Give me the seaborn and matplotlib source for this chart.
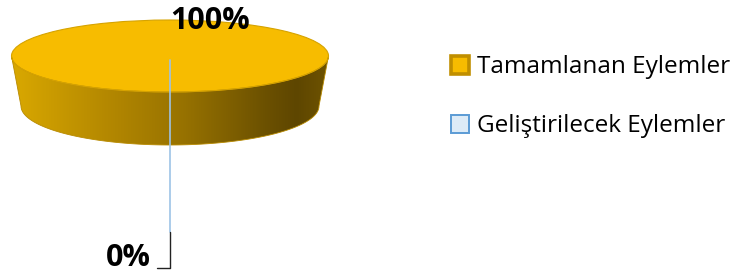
import numpy as np
import matplotlib
matplotlib.use("Agg")
import matplotlib.pyplot as plt
import seaborn as sns
from matplotlib.lines import Line2D
from matplotlib.path import Path
from matplotlib.patches import PathPatch, Ellipse
from matplotlib.colors import LinearSegmentedColormap

# ---- data ----
categories = ["Tamamlanan Eylemler", "Geliştirilecek Eylemler"]
values = [100, 0]
value_labels = ["100%", "0%"]
slice_colors = ["#F7BC00", "#DDEBF7"]
edge_colors = ["#C08F00", "#5B9BD5"]

sns.set_theme(style="white")
plt.rcParams["font.family"] = ["Open Sans", "DejaVu Sans"]

W, H = 730, 275
fig = plt.figure(figsize=(W / 100, H / 100), dpi=100)

# geometry of the 3D disc (pixels)
cx, cy, a, b = 170, 56, 158.5, 36
cy2, a2, b2 = 106, 149, 39

# top face: pie drawn into an axes the size of the ellipse
pie_ax = fig.add_axes([(cx - a) / W, (H - (cy + b)) / H, 2 * a / W, 2 * b / H])
pie_ax.set_zorder(1)
pie_ax.pie(values, colors=slice_colors, startangle=90, counterclock=False,
           radius=1.0, wedgeprops=dict(linewidth=0))
pie_ax.set_aspect("auto")
pie_ax.set_xlim(-1, 1)
pie_ax.set_ylim(-1, 1)
pie_ax.patch.set_alpha(0)
pie_ax.axis("off")

# overlay axes in pixel coordinates (y downward)
bg = fig.add_axes([0, 0, 1, 1])
bg.set_zorder(2)
bg.patch.set_alpha(0)
bg.set_xlim(0, W)
bg.set_ylim(H, 0)
bg.axis("off")

# side of the disc: lower half of top ellipse + lower half of bottom ellipse
t = np.linspace(np.pi, 0, 200)
top_x = cx + a * np.cos(t)
top_y = cy + b * np.sin(t)
bot_x = cx + a2 * np.cos(t[::-1])
bot_y = cy2 + b2 * np.sin(t[::-1])
verts = np.column_stack([np.concatenate([top_x, bot_x]),
                         np.concatenate([top_y, bot_y])])
side_path = Path(np.vstack([verts, verts[:1]]), closed=True)
side_patch = PathPatch(side_path, facecolor="none", edgecolor="#B88A00", lw=0.6, zorder=2)
bg.add_patch(side_patch)

cmap = LinearSegmentedColormap.from_list(
    "side", [(0.0, "#D9A800"), (0.3, "#B48800"), (0.55, "#967100"),
             (0.8, "#6C5100"), (0.9, "#5E4600"), (1.0, "#6E5300")])
grad = np.linspace(0, 1, 400).reshape(1, -1)
im = bg.imshow(grad, cmap=cmap, extent=(cx - a, cx + a, cy2 + b2 + 2, cy - 2),
               aspect="auto", zorder=1)
im.set_clip_path(side_patch)

# outline of the top face
bg.add_patch(Ellipse((cx, cy), 2 * a, 2 * b, facecolor="none",
                     edgecolor="#D6A300", lw=0.8, zorder=3))

# zero slice line and leader
bg.plot([cx, cx], [cy + 4, 232], color="#9DC3E6", lw=1.2, zorder=5)
bg.plot([cx, cx, 157], [232, 268, 268], color="#222222", lw=1.0, zorder=5)

# data labels
bg.text(210, 21, value_labels[0], ha="center", va="center", fontsize=22,
        fontweight="bold", color="black", zorder=6)
bg.text(128, 258, value_labels[1], ha="center", va="center", fontsize=22,
        fontweight="bold", color="black", zorder=6)

# legend
handles = [Line2D([], [], linestyle="none", marker="s", markersize=12.5,
                  markerfacecolor=slice_colors[i], markeredgecolor=edge_colors[i],
                  markeredgewidth=2.6 if i == 0 else 1.4)
           for i in range(len(categories))]
leg = fig.legend(handles, categories, loc="upper left",
                 bbox_to_anchor=(436 / W, 1 - 43 / H), frameon=False,
                 fontsize=17.5, labelspacing=1.45, handletextpad=0.2,
                 handlelength=1.0, borderpad=0)
for txt in leg.get_texts():
    txt.set_color("black")

fig.savefig("out.png", dpi=100)
